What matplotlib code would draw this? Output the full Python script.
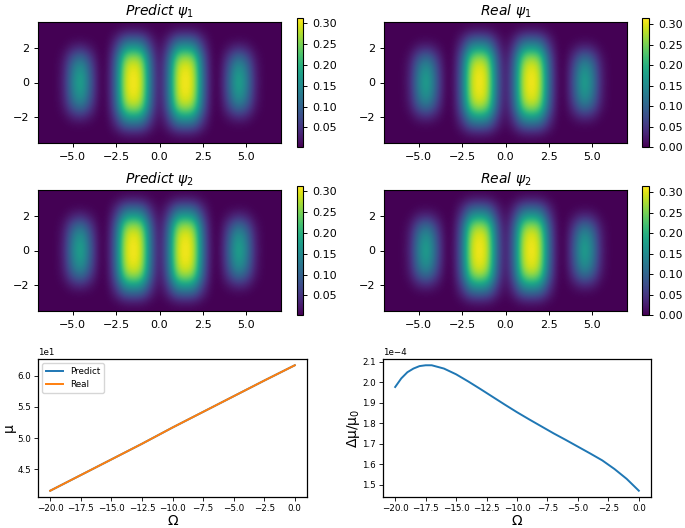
import numpy as np
import matplotlib
matplotlib.use("Agg")
import matplotlib.pyplot as plt

# quarter of the density maps, rows y = 0..3.5, columns x = 0..7 (step 0.5)
predict_quarter = [
    [.012, .110, .292, .312, .292, .110, .006, .006, .098, .195, .142, .030, .003, .003, .003],
    [.012, .108, .288, .311, .288, .108, .006, .006, .093, .186, .135, .028, .003, .003, .003],
    [.011, .102, .275, .300, .275, .102, .005, .005, .080, .160, .117, .025, .003, .003, .003],
    [.009, .088, .238, .262, .238, .088, .005, .004, .054, .108, .079, .017, .003, .003, .003],
    [.007, .060, .163, .180, .163, .060, .004, .003, .021, .042, .031, .007, .003, .003, .003],
    [.004, .033, .090, .098, .090, .033, .003, .003, .005, .007, .006, .003, .003, .003, .003],
    [.003, .008, .021, .024, .021, .008, .003, .003, .003, .003, .003, .003, .003, .003, .003],
    [.003, .003, .003, .003, .003, .003, .003, .003, .003, .003, .003, .003, .003, .003, .003],
]
real_quarter = [
    [.009, .107, .290, .315, .290, .107, .003, .003, .095, .192, .139, .027, .000, .000, .000],
    [.009, .105, .286, .313, .286, .105, .003, .003, .090, .183, .132, .025, .000, .000, .000],
    [.008, .099, .272, .302, .272, .099, .002, .002, .077, .157, .114, .022, .000, .000, .000],
    [.006, .085, .235, .262, .235, .085, .002, .001, .051, .105, .076, .014, .000, .000, .000],
    [.004, .057, .160, .178, .160, .057, .001, .000, .018, .039, .028, .004, .000, .000, .000],
    [.001, .030, .087, .095, .087, .030, .000, .000, .002, .004, .003, .000, .000, .000, .000],
    [.000, .005, .018, .021, .018, .005, .000, .000, .000, .000, .000, .000, .000, .000, .000],
    [.000, .000, .000, .000, .000, .000, .000, .000, .000, .000, .000, .000, .000, .000, .000],
]

omega_mu = [-20, -17.5, -15, -12.5, -10, -7.5, -5, -2.5, 0]
mu_predict = [41.6, 44.1, 46.6, 49.1, 51.7, 54.2, 56.7, 59.2, 61.65]
mu_real = [41.6, 44.1, 46.6, 49.1, 51.7, 54.2, 56.7, 59.2, 61.65]

omega_err = [-20, -19.5, -19, -18.5, -18, -17.5, -17, -16, -15, -14, -13, -12, -11, -10,
             -9, -8, -7, -6, -5, -4, -3, -2, -1, 0]
err = [1.978, 2.02, 2.05, 2.068, 2.08, 2.084, 2.084, 2.068, 2.04, 2.005, 1.968, 1.93, 1.892, 1.855,
       1.82, 1.786, 1.752, 1.72, 1.687, 1.654, 1.62, 1.578, 1.53, 1.472]

omega_ticks = [-20, -17.5, -15, -12.5, -10, -7.5, -5, -2.5, 0]


def full_map(quarter):
    q = np.array(quarter)
    right = np.vstack((q[:0:-1], q))
    return np.hstack((right[:, :0:-1], right))


W, H = 685.0, 528.0


def box(x0, y0, x1, y1):  # pixel box to figure coords
    return [x0 / W, 1 - y1 / H, (x1 - x0) / W, (y1 - y0) / H]


def small_axes(ax):
    ax.set_xticks(omega_ticks)
    ax.tick_params(labelsize=6.3, length=2.6, width=0.6, pad=2.5)
    ax.yaxis.get_offset_text().set_fontsize(6.3)
    ax.set_xlabel("Ω", fontsize=10, labelpad=1)
    for s in ax.spines.values():
        s.set_linewidth(0.9)


fig = plt.figure(figsize=(6.85, 5.28), dpi=100)

maps = [
    (predict_quarter, r"$Predict\ \psi_1$", (38, 22, 281, 143), (297, 18, 303, 147)),
    (real_quarter, r"$Real\ \psi_1$", (384, 22, 627, 143), (642, 18, 649, 147)),
    (predict_quarter, r"$Predict\ \psi_2$", (38, 190, 281, 311), (297, 186, 303, 315)),
    (real_quarter, r"$Real\ \psi_2$", (384, 190, 627, 311), (642, 186, 649, 315)),
]
for quarter, title, abox, cbox in maps:
    ax = fig.add_axes(box(*abox))
    im = ax.imshow(full_map(quarter), cmap="viridis", interpolation="bicubic",
                   extent=[-7.25, 7.25, -3.75, 3.75], aspect="auto")
    ax.set_xlim(-7, 7)
    ax.set_ylim(-3.5, 3.5)
    ax.set_xticks([-5, -2.5, 0, 2.5, 5])
    ax.set_yticks([-2, 0, 2])
    ax.tick_params(labelsize=8, length=3, width=0.7)
    ax.set_title(title, fontsize=10, pad=5)
    cax = fig.add_axes(box(*cbox))
    cb = fig.colorbar(im, cax=cax)
    cb.set_ticks([t for t in [0, .05, .1, .15, .2, .25, .3] if t >= im.get_clim()[0]])
    cb.ax.tick_params(labelsize=8, length=3, width=0.7)

ax = fig.add_axes(box(38, 359, 307, 497))
ax.plot(omega_mu, mu_predict, label="Predict", lw=1.4)
ax.plot(omega_mu, mu_real, label="Real", lw=1.4)
ax.ticklabel_format(axis="y", style="sci", scilimits=(1, 1))
ax.legend(loc="upper left", fontsize=6.3)
small_axes(ax)
ax.set_ylabel("μ", fontsize=10, labelpad=1)

ax = fig.add_axes(box(383, 359, 651, 497))
ax.plot(omega_err, np.array(err) * 1e-4, lw=1.4)
ax.set_yticks(np.array([1.5, 1.6, 1.7, 1.8, 1.9, 2.0, 2.1]) * 1e-4)
ax.ticklabel_format(axis="y", style="sci", scilimits=(-4, -4))
small_axes(ax)
ax.set_ylabel("Δμ/μ$_0$", fontsize=10, labelpad=0)

fig.savefig("out.png", dpi=100)
